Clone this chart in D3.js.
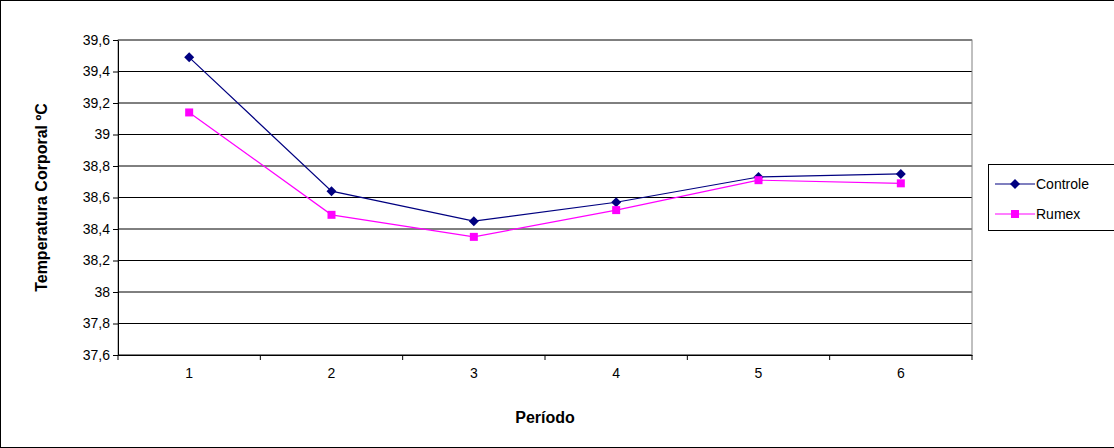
<!DOCTYPE html>
<html><head><meta charset="utf-8">
<script src="https://cdn.jsdelivr.net/npm/d3@7"></script>
<style>body{margin:0;background:#fff}svg{display:block}</style>
</head><body>
<script>
const categories = ["1","2","3","4","5","6"];
const controle = [39.49, 38.64, 38.45, 38.57, 38.73, 38.75];
const rumex = [39.14, 38.49, 38.35, 38.52, 38.71, 38.69];
const yTicks = [37.6,37.8,38,38.2,38.4,38.6,38.8,39,39.2,39.4,39.6];

const W=1114,H=448;
const svg=d3.select("body").append("svg").attr("width",W).attr("height",H)
  .style("font-family","Arial, 'Liberation Sans', sans-serif");
svg.append("rect").attr("x",0.5).attr("y",0.5).attr("width",W+5).attr("height",H-1)
  .attr("fill","#fff").attr("stroke","#000");
const L=118,R=972,T=40,B=355;
const x=d3.scaleBand().domain(categories).range([L,R]);
const y=d3.scaleLinear().domain([37.6,39.6]).range([B,T]);
const fmt=v=>d3.format(".1f")(v).replace(/\.0$/,"").replace(".",",");

svg.append("g").selectAll("line").data(yTicks).join("line")
  .attr("x1",L).attr("x2",R).attr("y1",d=>y(d)).attr("y2",d=>y(d)).attr("stroke","#000");
svg.append("rect").attr("x",L).attr("y",T).attr("width",R-L).attr("height",B-T)
  .attr("fill","none").attr("stroke","#808080");
const ya=svg.append("g").attr("transform",`translate(${L},0)`)
  .call(d3.axisLeft(y).tickValues(yTicks).tickFormat(fmt).tickSize(5).tickSizeOuter(0));
const xa=svg.append("g").attr("transform",`translate(0,${B})`)
  .call(d3.axisBottom(x).tickSize(0).tickSizeOuter(0));
xa.selectAll("text").attr("dy","1.4em");
svg.append("g").selectAll("line").data(d3.range(categories.length+1)).join("line")
  .attr("x1",i=>L+i*x.step()).attr("x2",i=>L+i*x.step()).attr("y1",B).attr("y2",B+5).attr("stroke","#000");
[ya,xa].forEach(a=>{a.selectAll("path,line").attr("stroke","#000");a.selectAll("text").attr("font-size",14).attr("fill","#000").attr("font-family","Arial, 'Liberation Sans', sans-serif");});
ya.selectAll("text").attr("x",-8);

svg.append("text").attr("x",(L+R)/2).attr("y",423).attr("text-anchor","middle")
  .attr("font-size",16).attr("font-weight","bold").text("Período");
svg.append("text").attr("transform",`translate(47,${(T+B)/2}) rotate(-90)`).attr("text-anchor","middle")
  .attr("font-size",16).attr("font-weight","bold").text("Temperatura Corporal ºC");

const cx=d=>x(d)+x.bandwidth()/2;
const line=d3.line().x((d,i)=>cx(categories[i])).y(d=>y(d));
const diamond="M0,-5L5,0L0,5L-5,0Z", square="M-4,-4H4V4H-4Z";
const series=[{name:"Controle",data:controle,color:"#000080",sym:diamond},
              {name:"Rumex",data:rumex,color:"#ff00ff",sym:square}];
series.forEach(s=>{
  svg.append("path").attr("d",line(s.data)).attr("fill","none").attr("stroke",s.color).attr("stroke-width",1.2);
  svg.append("g").selectAll("path").data(s.data).join("path")
    .attr("transform",(d,i)=>`translate(${cx(categories[i])},${y(d)})`).attr("d",s.sym).attr("fill",s.color);
});
// legend
svg.append("rect").attr("x",988.5).attr("y",164.5).attr("width",140).attr("height",66).attr("fill","#fff").attr("stroke","#000");
series.forEach((s,i)=>{
  const ly=184+i*30;
  svg.append("line").attr("x1",995).attr("x2",1035).attr("y1",ly).attr("y2",ly).attr("stroke",s.color).attr("stroke-width",1.2);
  svg.append("path").attr("transform",`translate(1015,${ly})`).attr("d",s.sym).attr("fill",s.color);
  svg.append("text").attr("x",1036).attr("y",ly+5).attr("font-size",14).text(s.name);
});
</script>
</body></html>
